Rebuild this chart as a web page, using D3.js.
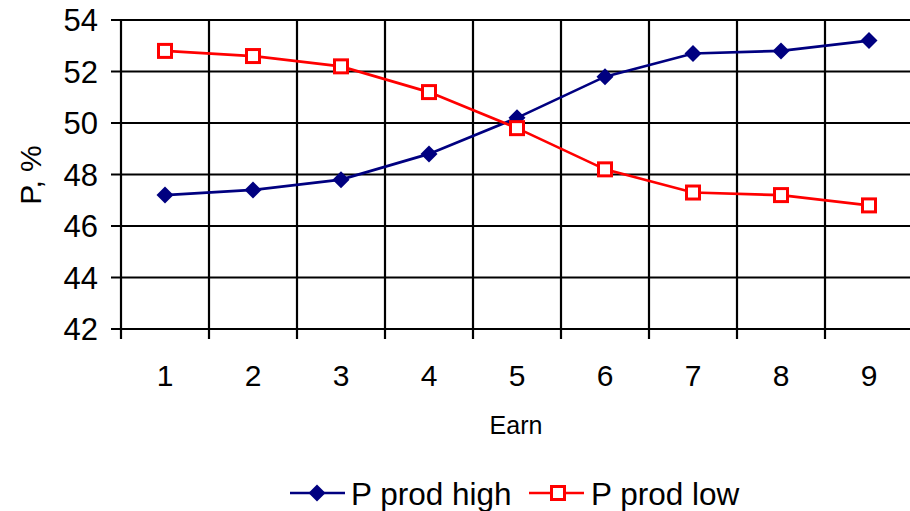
<!DOCTYPE html>
<html><head><meta charset="utf-8">
<script src="https://cdn.jsdelivr.net/npm/d3@7"></script>
<style>body{margin:0;background:#fff}svg{display:block}text{font-family:"Liberation Sans",Arial,sans-serif}</style>
</head><body>
<svg id="c" width="910" height="511"></svg>
<script>
const categories = [1,2,3,4,5,6,7,8,9];
const highValues = [47.2,47.4,47.8,48.8,50.2,51.8,52.7,52.8,53.2];
const lowValues = [52.8,52.6,52.2,51.2,49.8,48.2,47.3,47.2,46.8];
const yTicks = [42,44,46,48,50,52,54];
const seriesNames = ["P prod high","P prod low"];

const svg = d3.select("#c");
const pLeft=121, pRight=913, pTop=20, pBottom=329;
const x = d3.scaleBand().domain(categories).range([pLeft,pRight]);
const y = d3.scaleLinear().domain([42,54]).range([pBottom,pTop]);

// horizontal grid
svg.append("g").selectAll("line").data(yTicks).join("line")
  .attr("x1",pLeft-10).attr("x2",910).attr("y1",d=>y(d)).attr("y2",d=>y(d))
  .attr("stroke","#000").attr("stroke-width",2.2);
// vertical grid (category boundaries)
const bounds = categories.map(c=>x(c)).concat([x(categories[categories.length-1])+x.bandwidth()]);
svg.append("g").selectAll("line").data(bounds).join("line")
  .attr("x1",d=>d).attr("x2",d=>d).attr("y1",pTop).attr("y2",pBottom+10)
  .attr("stroke","#000").attr("stroke-width",2.2);

// y tick labels
svg.append("g").selectAll("text").data(yTicks).join("text")
  .attr("x",98).attr("y",d=>y(d)).attr("dy","0.36em").attr("text-anchor","end")
  .attr("font-size",31).text(d=>d);
// x tick labels
svg.append("g").selectAll("text").data(categories).join("text")
  .attr("x",d=>x(d)+x.bandwidth()/2).attr("y",386).attr("text-anchor","middle")
  .attr("font-size",30).text(d=>d);

svg.append("text").attr("x",516).attr("y",434).attr("text-anchor","middle")
  .attr("font-size",25).text("Earn");
svg.append("text").attr("transform","translate(41,175) rotate(-90)").attr("text-anchor","middle")
  .attr("font-size",30).text("P, %");

const cx = d=>x(d)+x.bandwidth()/2;
const line = d3.line().x((d,i)=>cx(categories[i])).y(d=>y(d));
const diamondPath = "M0,-8.5L8.5,0L0,8.5L-8.5,0Z";
const lw = 2.7;

// high series
svg.append("path").datum(highValues).attr("d",line).attr("fill","none").attr("stroke","#000080").attr("stroke-width",lw);
svg.append("g").selectAll("path").data(highValues).join("path")
  .attr("transform",(d,i)=>`translate(${cx(categories[i])},${y(d)})`)
  .attr("d",diamondPath).attr("fill","#000080");
// low series
svg.append("path").datum(lowValues).attr("d",line).attr("fill","none").attr("stroke","#ff0000").attr("stroke-width",lw);
svg.append("g").selectAll("rect").data(lowValues).join("rect")
  .attr("x",(d,i)=>cx(categories[i])-6.5).attr("y",d=>y(d)-6.5).attr("width",13).attr("height",13)
  .attr("fill","#fff").attr("stroke","#ff0000").attr("stroke-width",3);

// legend
const lg = svg.append("g");
lg.append("line").attr("x1",290).attr("x2",345).attr("y1",493).attr("y2",493).attr("stroke","#000080").attr("stroke-width",lw);
lg.append("path").attr("transform","translate(317,493)").attr("d",diamondPath).attr("fill","#000080");
lg.append("text").attr("x",351).attr("y",505).attr("font-size",31.5).text(seriesNames[0]);
lg.append("line").attr("x1",529).attr("x2",584).attr("y1",493).attr("y2",493).attr("stroke","#ff0000").attr("stroke-width",lw);
lg.append("rect").attr("x",551.5).attr("y",486.5).attr("width",13).attr("height",13).attr("fill","#fff").attr("stroke","#ff0000").attr("stroke-width",3);
lg.append("text").attr("x",591).attr("y",505).attr("font-size",31.5).text(seriesNames[1]);
</script>
</body></html>
